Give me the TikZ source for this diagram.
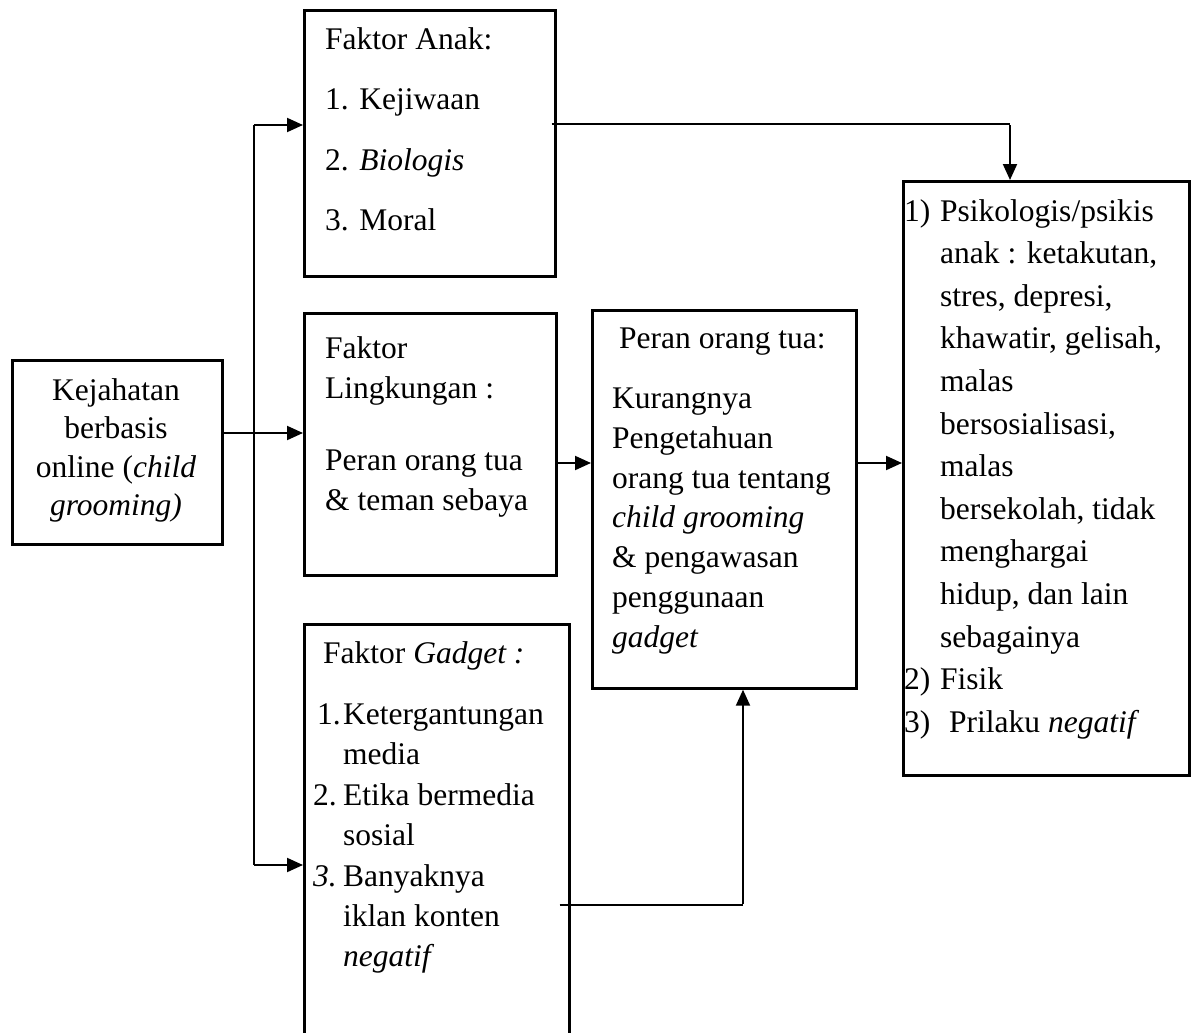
\documentclass[tikz,border=0pt]{standalone}
\usepackage{fontspec}
\setmainfont{Liberation Serif}
\usetikzlibrary{arrows.meta}
\begin{document}
\begin{tikzpicture}[x=1pt,y=-1pt,
  box/.style={draw, line width=2.7pt, inner sep=0pt, anchor=north west},
  txt/.style={anchor=base west, inner sep=0pt, font=\fontsize{31.5}{40}\selectfont},
  ctxt/.style={anchor=base, inner sep=0pt, font=\fontsize{31.5}{40}\selectfont},
  arr/.style={line width=2pt, -{Triangle[length=16pt,width=14pt]}},
  ln/.style={line width=1.3pt},
  trunk/.style={line width=2pt}]
\useasboundingbox (0,0) rectangle (1192,1033);
% boxes
\node[box, minimum width=210pt, minimum height=184pt] (kej) at (11,359) {};
\node[box, minimum width=251pt, minimum height=266pt] (anak) at (303,9) {};
\node[box, minimum width=252pt, minimum height=262pt] (ling) at (303,312) {};
\node[box, minimum width=265pt, minimum height=430pt] (gad) at (303,623) {};
\node[box, minimum width=264pt, minimum height=378pt] (peran) at (591,309) {};
\node[box, minimum width=286pt, minimum height=594pt] (hasil) at (902,180) {};
% left box text
\node[ctxt] (k1) at (116,400) {Kejahatan};
\node[ctxt] (k2) at (116,438.5) {berbasis};
\node[ctxt] (k3) at (116,477) {online (\textit{child}};
\node[ctxt] (k4) at (116,515.5) {\textit{grooming)}};
% faktor anak
\node[txt] (a1) at (325,50) {Faktor Anak:};
\node[txt] (a2) at (325,110) {1. Kejiwaan};
\node[txt] (a3) at (325,170) {2. \textit{Biologis}};
\node[txt] (a4) at (325,230) {3. Moral};
% faktor lingkungan
\node[txt] (l1) at (325,358) {Faktor};
\node[txt] (l2) at (325,398) {Lingkungan :};
\node[txt] (l3) at (325,470) {Peran orang tua};
\node[txt] (l4) at (325,510) {\& teman sebaya};
% faktor gadget
\node[txt] (g1) at (323,663) {Faktor \textit{Gadget :}};
\node[txt] (g2) at (317,724) {1.};
\node[txt] (g3) at (343,724) {Ketergantungan};
\node[txt] (g4) at (343,764) {media};
\node[txt] (g5) at (313,805) {2.};
\node[txt] (g6) at (343,805) {Etika bermedia};
\node[txt] (g7) at (343,845) {sosial};
\node[txt] (g8) at (313,886) {\textit{3.}};
\node[txt] (g9) at (343,886) {Banyaknya};
\node[txt] (g10) at (343,926) {iklan konten};
\node[txt] (g11) at (343,966) {\textit{negatif}};
% peran orang tua
\node[txt] (p1) at (619,348) {Peran orang tua:};
\node[txt] (p2) at (612,408) {Kurangnya};
\node[txt] (p3) at (612,448) {Pengetahuan};
\node[txt] (p4) at (612,488) {orang tua tentang};
\node[txt] (p5) at (612,527) {\textit{child grooming}};
\node[txt] (p6) at (612,567) {\& pengawasan};
\node[txt] (p7) at (612,607) {penggunaan};
\node[txt] (p8) at (612,647) {\textit{gadget}};
% hasil
\node[txt] (h0) at (904,221) {1)};
\node[txt] (h1) at (940,221) {Psikologis/psikis};
\node[txt] (h2) at (940,263.6) {anak : ketakutan,};
\node[txt] (h3) at (940,306.2) {stres, depresi,};
\node[txt] (h4) at (940,348.8) {khawatir, gelisah,};
\node[txt] (h5) at (940,391.4) {malas};
\node[txt] (h6) at (940,434) {bersosialisasi,};
\node[txt] (h7) at (940,476.6) {malas};
\node[txt] (h8) at (940,519.2) {bersekolah, tidak};
\node[txt] (h9) at (940,561.8) {menghargai};
\node[txt] (h10) at (940,604.4) {hidup, dan lain};
\node[txt] (h11) at (940,647) {sebagainya};
\node[txt] (h12) at (904,689.6) {2)};
\node[txt] (h13) at (940,689.6) {Fisik};
\node[txt] (h14) at (904,732.2) {3)};
\node[txt] (h15) at (949,732.2) {Prilaku \textit{negatif}};
% connectors
\coordinate (jA) at (254,125);
\coordinate (jL) at (254,433);
\coordinate (jG) at (254,865);
\draw[ln] (kej.east |- jL) -- (jL);
\draw[trunk] (jA) -- (jG);
\draw[arr] (jA) -- (jA -| anak.west);
\draw[arr] (jL) -- (jL -| ling.west);
\draw[arr] (jG) -- (jG -| gad.west);
\coordinate (cA) at (1010,124);
\draw[ln] ([xshift=-5pt]anak.east |- cA) -- (cA);
\draw[arr] ([yshift=-1pt]cA) -- (cA |- hasil.north);
\coordinate (m) at (573,463);
\draw[arr] (ling.east |- m) -- (m -| peran.west);
\draw[arr] (peran.east |- m) -- (m -| hasil.west);
\coordinate (cG) at (743,905);
\draw[ln] ([xshift=-11pt]gad.east |- cG) -- (cG);
\draw[arr] ([yshift=1pt]cG) -- (cG |- peran.south);
\end{tikzpicture}
\end{document}
